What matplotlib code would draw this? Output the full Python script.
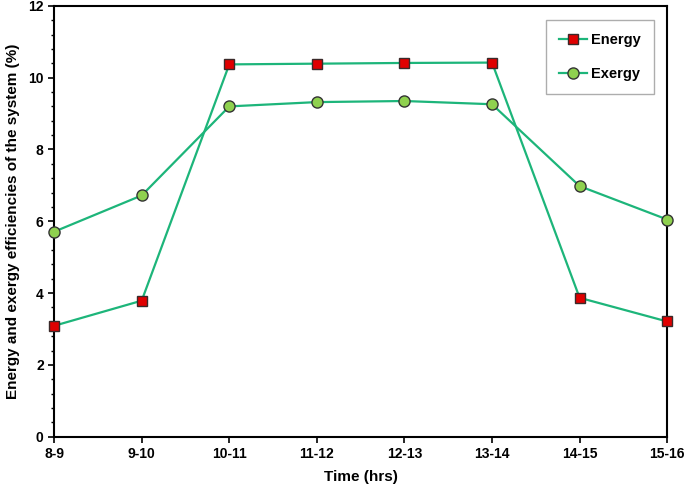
import numpy as np
import matplotlib.pyplot as plt
from matplotlib.ticker import MultipleLocator

plt.rcParams['font.family'] = ['Liberation Sans', 'DejaVu Sans']
plt.rcParams['font.weight'] = 'bold'

# data
periods = ["8-9", "9-10", "10-11", "11-12", "12-13", "13-14", "14-15", "15-16"]
energy = [3.09, 3.79, 10.37, 10.39, 10.41, 10.42, 3.87, 3.21]
exergy = [5.71, 6.72, 9.20, 9.32, 9.35, 9.26, 6.98, 6.05]

line_col = "#1db57a"

fig = plt.figure(figsize=(6.85, 4.88), dpi=100)
ax = fig.add_axes([0.079, 0.105, 0.895, 0.883])

x = np.arange(len(periods))
ax.plot(x, energy, color=line_col, lw=1.6, marker="s", ms=7,
        mfc="#e00000", mec="#3a2a2a", mew=1.0, label="Energy", zorder=3, clip_on=False)
ax.plot(x, exergy, color=line_col, lw=1.6, marker="o", ms=8,
        mfc="#8fd14f", mec="#333333", mew=1.0, label="Exergy", zorder=3, clip_on=False)

ax.set_xlim(0, len(periods) - 1)
ax.set_ylim(0, 12)
ax.set_xticks(x)
ax.set_xticklabels(periods)
ax.yaxis.set_major_locator(MultipleLocator(2))
ax.yaxis.set_minor_locator(MultipleLocator(0.4))
ax.tick_params(axis="both", which="major", labelsize=10, length=4, width=1.2, direction="out")
ax.tick_params(axis="y", which="minor", length=2.5, width=1.0, direction="out")
for s in ax.spines.values():
    s.set_linewidth(1.5)

ax.set_xlabel("Time (hrs)", fontsize=11, fontweight="bold", labelpad=6)
ax.set_ylabel("Energy and exergy efficiencies of the system (%)", fontsize=11,
              fontweight="bold", labelpad=6)

leg = ax.legend(loc="upper right", bbox_to_anchor=(0.99, 0.985), fontsize=10.5,
                frameon=True, fancybox=False, edgecolor="#999999",
                labelspacing=1.4, handlelength=1.9, borderpad=0.9, handletextpad=0.3)
leg.get_frame().set_linewidth(1.0)

fig.savefig("out.png", dpi=100)
